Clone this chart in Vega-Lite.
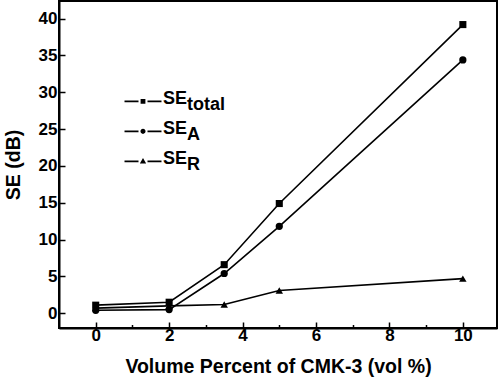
{
  "$schema": "https://vega.github.io/schema/vega-lite/v6.json",
  "width": 438,
  "height": 327,
  "autosize": {"type": "none"},
  "padding": {"left": 59, "top": 1, "right": 3, "bottom": 52},
  "background": "white",
  "config": {
    "view": {"stroke": "black", "strokeWidth": 2},
    "font": "Liberation Sans",
    "axis": {
      "grid": false,
      "domainColor": "black",
      "domainWidth": 2,
      "tickColor": "black",
      "tickWidth": 1.5,
      "labelFont": "Liberation Sans",
      "labelFontWeight": "bold",
      "labelFontSize": 17,
      "labelColor": "black",
      "titleFont": "Liberation Sans",
      "titleFontWeight": "bold",
      "titleFontSize": 19.5,
      "titleColor": "black"
    },
    "legend": {
      "labelFont": "Liberation Sans",
      "labelFontWeight": "bold",
      "labelColor": "black",
      "labelFontSize": 18,
      "padding": 0,
      "rowPadding": 0,
      "symbolSize": 900,
      "symbolStrokeWidth": 0,
      "title": null
    }
  },
  "data": {
    "values": [
      {"x": 0, "y": 1.1, "s": "total"},
      {"x": 2, "y": 1.5, "s": "total"},
      {"x": 3.5, "y": 6.6, "s": "total"},
      {"x": 5, "y": 14.9, "s": "total"},
      {"x": 10, "y": 39.2, "s": "total"},
      {"x": 0, "y": 0.4, "s": "A"},
      {"x": 2, "y": 0.5, "s": "A"},
      {"x": 3.5, "y": 5.4, "s": "A"},
      {"x": 5, "y": 11.8, "s": "A"},
      {"x": 10, "y": 34.4, "s": "A"},
      {"x": 0, "y": 0.7, "s": "R"},
      {"x": 2, "y": 1.0, "s": "R"},
      {"x": 3.5, "y": 1.2, "s": "R"},
      {"x": 5, "y": 3.1, "s": "R"},
      {"x": 10, "y": 4.7, "s": "R"}
    ]
  },
  "encoding": {
    "x": {"field": "x", "type": "quantitative", "scale": {"domain": [-1, 10.93], "nice": false, "zero": false}},
    "y": {"field": "y", "type": "quantitative", "scale": {"domain": [-2, 42.4], "nice": false, "zero": false}}
  },
  "layer": [
    {
      "mark": {"type": "line", "color": "black", "strokeWidth": 1.6},
      "encoding": {
        "detail": {"field": "s"},
        "x": {"field": "x", "type": "quantitative", "axis": {
          "values": [0, 1, 2, 3, 4, 5, 6, 7, 8, 9, 10],
          "tickSize": {"condition": {"test": "datum.value % 2 == 0", "value": -6}, "value": -3.5},
          "labelExpr": "datum.value % 2 == 0 ? datum.label : ''",
          "labelPadding": 5, "title": "Volume Percent of CMK-3 (vol %)", "titlePadding": 14}},
        "y": {"field": "y", "type": "quantitative", "axis": {
          "values": [0, 2.5, 5, 7.5, 10, 12.5, 15, 17.5, 20, 22.5, 25, 27.5, 30, 32.5, 35, 37.5, 40],
          "tickSize": {"condition": {"test": "datum.value % 5 == 0", "value": -6}, "value": -3.5},
          "labelExpr": "datum.value % 5 == 0 ? datum.label : ''",
          "labelPadding": 8, "title": "SE (dB)", "titlePadding": 15}}
      }
    },
    {
      "mark": {"type": "point", "filled": true, "color": "black", "opacity": 1},
      "encoding": {
        "shape": {"field": "s", "type": "nominal", "legend": null,
          "scale": {"domain": ["total", "A", "R"], "range": ["square", "circle", "triangle-up"]}},
        "size": {"field": "s", "type": "nominal", "legend": null,
          "scale": {"domain": ["total", "A", "R"], "range": [50, 55, 100]}}
      }
    },
    {
      "mark": {"type": "point", "filled": true, "color": "black", "opacity": 0},
      "encoding": {
        "shape": {"field": "s", "type": "nominal",
          "scale": {"domain": ["total", "A", "R"], "range": [
            "M0,-1L0,-1M0,1L0,1M-1.233,0.1H-0.3V0.21H-1.233ZM0.3,0.1H1.233V0.21H0.3ZM-0.16,-0.005H0.16V0.315H-0.16Z",
            "M0,-1L0,-1M0,1L0,1M-1.233,0.1H-0.3V0.21H-1.233ZM0.3,0.1H1.233V0.21H0.3ZM0.17,0.155A0.17,0.17,0,1,1,-0.17,0.155A0.17,0.17,0,1,1,0.17,0.155Z",
            "M0,-1L0,-1M0,1L0,1M-1.233,0.1H-0.3V0.21H-1.233ZM0.3,0.1H1.233V0.21H0.3ZM0,-0.07L0.21,0.3H-0.21Z"]},
          "legend": {
            "orient": "none", "legendX": 69, "legendY": 83,
            "symbolFillColor": "black",
            "symbolOpacity": 1,
            "labelOffset": 5,
            "labelExpr": "'SE'"
          }
        }
      }
    },
    {
      "mark": {"type": "point", "filled": true, "color": "black", "opacity": 0},
      "encoding": {
        "shape": {"field": "s", "type": "nominal",
          "scale": {"domain": ["total", "A", "R"], "range": ["M0,-1L0,-1M0,1L0,1", "M0,-1L0,-1M0,1L0,1", "M0,-1L0,-1M0,1L0,1"]},
          "legend": {
            "orient": "none", "legendX": 93, "legendY": 89,
            "symbolOpacity": 0,
            "labelOffset": 5,
            "labelExpr": "datum.label"
          }
        }
      }
    }
  ],
  "resolve": {"scale": {"shape": "independent", "size": "independent"}, "legend": {"shape": "independent"}}
}
